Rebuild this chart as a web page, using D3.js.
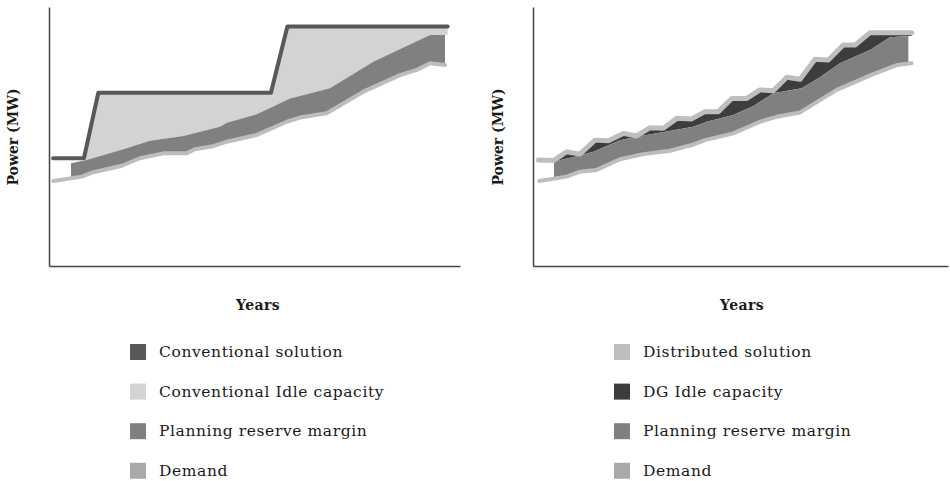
<!DOCTYPE html>
<html><head><meta charset="utf-8">
<script src="https://cdn.jsdelivr.net/npm/d3@7"></script>
<style>body{margin:0;background:#fff}</style>
</head><body><svg id="c" width="950" height="481"></svg>
<script>
// ---- data (years, MW in relative units) ----
const convSolution = [[0.2,41.6],[1.7,41.6],[2.4,66.9],[10.8,66.9],[11.6,92.5],[19.4,92.5]];
const leftDemand = [[0.21,32.8],[1.59,34.5],[2.16,36.2],[3.54,38.7],[4.43,41.6],[5.56,43.5],[6.70,43.5],[7.10,45.1],[7.92,46.1],[8.65,48.0],[10.11,50.6],[11.57,55.7],[12.21,57.3],[13.51,59.0],[15.30,67.3],[17.08,73.7],[17.89,75.7],[18.54,78.3],[19.27,77.6]];
const leftReserveTop = [[1.07,39.7],[1.83,40.9],[3.62,45.1],[4.91,48.4],[6.54,50.2],[8.32,53.8],[8.65,55.3],[10.11,58.6],[11.73,64.7],[13.67,68.6],[15.78,78.9],[18.54,89.2],[19.27,89.2]];
const distSolution = [[0.26,40.9],[0.98,40.7],[1.62,44.1],[2.26,43.2],[2.99,48.6],[3.63,48.4],[4.35,51.2],[5.00,50.2],[5.64,53.4],[6.28,53.2],[6.93,57.0],[7.65,56.8],[8.29,59.6],[8.93,59.6],[9.58,64.7],[10.30,64.7],[10.94,68.0],[11.58,67.7],[12.23,72.9],[12.87,72.1],[13.59,79.8],[14.23,79.5],[14.95,85.3],[15.52,85.3],[16.24,90.1],[18.25,90.1]];
const rightDemand = [[0.30,32.8],[1.62,34.5],[2.26,36.4],[3.07,37.1],[4.19,41.2],[5.32,43.2],[6.60,44.5],[7.65,46.7],[8.29,48.6],[9.65,51.2],[10.94,55.7],[11.74,57.6],[12.87,59.3],[14.64,68.0],[16.40,74.1],[17.53,77.6],[18.25,78.3]];
const rightReserveTop = [[1.01,40.3],[2.02,42.2],[2.91,44.1],[4.19,48.6],[5.00,49.9],[6.44,51.9],[7.72,53.8],[8.37,55.7],[9.65,58.3],[10.62,61.8],[11.58,66.7],[12.95,68.6],[13.83,72.9],[14.79,78.3],[16.24,83.4],[17.20,88.3],[18.09,88.8]];
const leftLegendLabels = ["Conventional solution","Conventional Idle capacity","Planning reserve margin","Demand"];
const rightLegendLabels = ["Distributed solution","DG Idle capacity","Planning reserve margin","Demand"];
const xDomain = [0, 20];
const yDomain = [0, 100];

// ---- styles ----
const C = {conv:"#58585b", idle:"#d3d3d5", reserve:"#808083", demand:"#bdbdc0", demandKey:"#a9a9ac", dist:"#bebec1", dgIdle:"#3d3d3d", axis:"#444"};
const leftColors = [C.conv, C.idle, C.reserve, C.demandKey];
const rightColors = [C.dist, C.dgIdle, C.reserve, C.demandKey];

const svg = d3.select("#c");

function interp(series, x){
  for(let i=0;i<series.length-1;i++){
    const a=series[i], b=series[i+1];
    if(x>=a[0] && x<=b[0]){ const t=(x-a[0])/(b[0]-a[0]||1); return a[1]+t*(b[1]-a[1]); }
  }
  return x<series[0][0]?series[0][1]:series[series.length-1][1];
}
function bandPolygon(top, bottom){
  const x0=top[0][0], x1=top[top.length-1][0];
  const inner = bottom.filter(d=>d[0]>x0 && d[0]<x1).slice().reverse();
  return top.concat([[x1, interp(bottom,x1)]], inner, [[x0, interp(bottom,x0)]]);
}

function panel(xr, solution, demand, reserveTop, solColor, idleColor, solWidth, idleStart){
  const x = d3.scaleLinear().domain(xDomain).range(xr);
  const y = d3.scaleLinear().domain(yDomain).range([266, 7]);
  const line = d3.line().x(d=>x(d[0])).y(d=>y(d[1]));
  const g = svg.append("g");
  const solPart = solution.filter(d=>d[0]>=idleStart);
  const topEnd = solPart[solPart.length-1][0];
  const rt = reserveTop.filter(d=>d[0]>=idleStart).slice().reverse();
  const idlePoly = [[idleStart, interp(solution, idleStart)]].concat(solPart, [[topEnd, interp(reserveTop, topEnd)]], rt);
  g.append("path").attr("d", line(idlePoly)+"Z").attr("fill", idleColor);
  g.append("path").attr("d", line(bandPolygon(reserveTop, demand))+"Z").attr("fill", C.reserve);
  g.append("path").attr("d", line(demand)).attr("fill","none").attr("stroke", C.demand)
    .attr("stroke-width", 4).attr("stroke-linecap","round").attr("stroke-linejoin","round");
  g.append("path").attr("d", line(solution)).attr("fill","none").attr("stroke", solColor)
    .attr("stroke-width", solWidth).attr("stroke-linecap","round").attr("stroke-linejoin","round");
  const ax = g.append("g").attr("transform",`translate(0,${y(0)})`).call(d3.axisBottom(x).ticks(0).tickSizeOuter(0));
  const ay = g.append("g").attr("transform",`translate(${x(0)},0)`).call(d3.axisLeft(y).ticks(0).tickSizeOuter(0));
  [ax, ay].forEach(a=>a.select(".domain").attr("stroke", C.axis).attr("stroke-width",1.5));
  return {x, y};
}

panel([49, 460], convSolution, leftDemand, leftReserveTop, C.conv, C.idle, 4, 1.7);
panel([533, 948], distSolution, rightDemand, rightReserveTop, C.dist, C.dgIdle, 5, 0.98);

const titleFont = "'DejaVu Serif', serif";
[{px:13, yx:258},{px:498, yx:742}].forEach(p=>{
  svg.append("text").attr("transform",`translate(${p.px},137) rotate(-90)`).attr("text-anchor","middle")
    .attr("dominant-baseline","central").attr("font-family",titleFont).attr("font-weight","bold")
    .attr("font-size",14).attr("fill","#1a1a1a").text("Power (MW)");
  svg.append("text").attr("x",p.yx).attr("y",310).attr("text-anchor","middle")
    .attr("font-family",titleFont).attr("font-weight","bold").attr("font-size",14).attr("letter-spacing",0.4)
    .attr("fill","#1a1a1a").text("Years");
});

function legend(labels, colors, sx, tx){
  const rows = svg.append("g").selectAll("g").data(labels).join("g")
    .attr("transform",(d,i)=>`translate(0,${352 + i*39.6})`);
  rows.append("rect").attr("x",sx).attr("y",-8).attr("width",16).attr("height",16).attr("fill",(d,i)=>colors[i]);
  rows.append("text").attr("x",tx).attr("y",0).attr("dominant-baseline","central")
    .attr("font-family",titleFont).attr("font-size",15.5).attr("letter-spacing",0.6)
    .attr("fill","#1a1a1a").text(d=>d);
}
legend(leftLegendLabels, leftColors, 130, 159);
legend(rightLegendLabels, rightColors, 614, 643);
</script></body></html>
